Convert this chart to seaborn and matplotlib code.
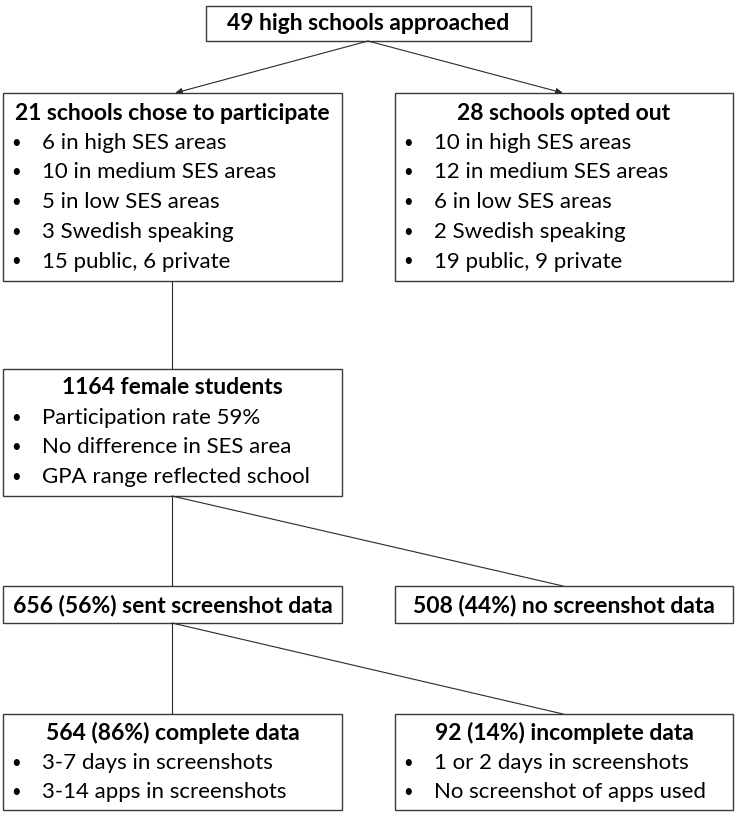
import matplotlib
matplotlib.use("Agg")
import matplotlib.pyplot as plt
import seaborn as sns
from matplotlib.patches import Rectangle

sns.set_theme(style="white")
plt.rcParams['font.family'] = ['Lato', 'DejaVu Sans']

# ------------------------------------------------------------------
# Texts of the flow chart
# ------------------------------------------------------------------
top_title = "49 high schools approached"

part_title = "21 schools chose to participate"
part_items = ["6 in high SES areas", "10 in medium SES areas", "5 in low SES areas",
              "3 Swedish speaking", "15 public, 6 private"]

out_title = "28 schools opted out"
out_items = ["10 in high SES areas", "12 in medium SES areas", "6 in low SES areas",
             "2 Swedish speaking", "19 public, 9 private"]

fem_title = "1164 female students"
fem_items = ["Participation rate 59%", "No difference in SES area", "GPA range reflected school"]

sent_title = "656 (56%) sent screenshot data"
nosent_title = "508 (44%) no screenshot data"

comp_title = "564 (86%) complete data"
comp_items = ["3-7 days in screenshots", "3-14 apps in screenshots"]

inc_title = "92 (14%) incomplete data"
inc_items = ["1 or 2 days in screenshots", "No screenshot of apps used"]

# ------------------------------------------------------------------
W, H = 736, 816
fig = plt.figure(figsize=(W / 100, H / 100), dpi=100)
ax = fig.add_axes([0, 0, 1, 1])
ax.set_xlim(0, W)
ax.set_ylim(H, 0)
ax.axis("off")

FS_T = 16.5   # bold titles
FS = 16       # bullet items
EDGE = "#3a3a3a"
LINE = "#2a2a2a"
STEP = 29.7


def box(x0, y0, x1, y1, title, items=(), ty=None):
    ax.add_patch(Rectangle((x0, y0), x1 - x0, y1 - y0, fill=False,
                           edgecolor=EDGE, linewidth=1.0))
    cx = (x0 + x1) / 2
    if ty is None:
        ty = (y0 + y1) / 2
    ax.text(cx, ty, title, ha="center", va="center", fontsize=FS_T,
            fontweight="bold", color="black")
    for i, it in enumerate(items):
        y = ty + STEP * (i + 1)
        ax.text(x0 + 13, y, "\u2022", ha="center", va="center", fontsize=12, color="black")
        ax.text(x0 + 39, y, it, ha="left", va="center", fontsize=FS, color="black")


def line(x0, y0, x1, y1):
    ax.plot([x0, x1], [y0, y1], color=LINE, linewidth=0.8)


def arrow(x0, y0, x1, y1):
    ax.annotate("", xy=(x1, y1), xytext=(x0, y0),
                arrowprops=dict(arrowstyle="-|>,head_length=0.35,head_width=0.15",
                                color=LINE, linewidth=0.8, shrinkA=0, shrinkB=0))


LX0, LX1 = 3, 342
RX0, RX1 = 395, 733

box(206, 6, 531, 41, top_title, ty=23)
arrow(368, 41, 175, 93)
arrow(368, 41, 563, 93)

box(LX0, 93, LX1, 281, part_title, part_items, ty=113)
box(RX0, 93, RX1, 281, out_title, out_items, ty=113)

line(172, 281, 172, 369)
box(LX0, 369, LX1, 496, fem_title, fem_items, ty=388)

line(172, 496, 172, 586)
line(172, 496, 563, 586)
box(LX0, 586, LX1, 623, sent_title, ty=605)
box(RX0, 586, RX1, 623, nosent_title, ty=605)

line(172, 623, 172, 714)
line(172, 623, 563, 714)
box(LX0, 714, LX1, 810, comp_title, comp_items, ty=733)
box(RX0, 714, RX1, 810, inc_title, inc_items, ty=733)

fig.savefig("out.png", dpi=100, facecolor="white")
